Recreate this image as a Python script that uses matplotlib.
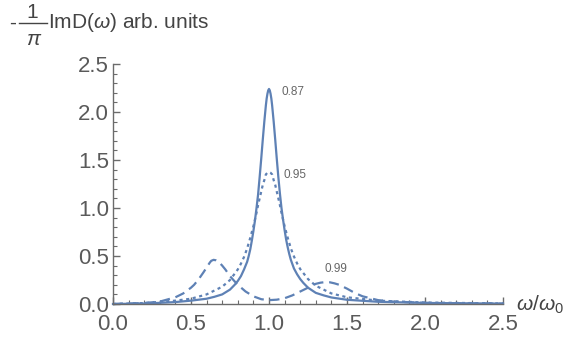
import numpy as np
import matplotlib
matplotlib.use("Agg")
import matplotlib.pyplot as plt
from matplotlib.lines import Line2D
from matplotlib.ticker import MultipleLocator, FormatStrFormatter

plt.rcParams["font.family"] = ["Liberation Sans", "DejaVu Sans"]
plt.rcParams["mathtext.fontset"] = "custom"
plt.rcParams["mathtext.rm"] = "Liberation Sans"
plt.rcParams["mathtext.it"] = "Liberation Sans:italic"

# values
x_solid = [0.0, 0.2, 0.3, 0.4, 0.5, 0.6, 0.65, 0.7, 0.75, 0.78, 0.8, 0.82,
           0.84, 0.86, 0.87, 0.88, 0.89, 0.9, 0.91, 0.92, 0.93, 0.94, 0.95,
           0.96, 0.97, 0.98, 0.985, 0.99, 0.995, 1.0, 1.005, 1.01, 1.015, 1.02,
           1.03, 1.04, 1.05, 1.06, 1.07, 1.08, 1.09, 1.1, 1.11, 1.12, 1.13,
           1.14, 1.16, 1.18, 1.2, 1.22, 1.25, 1.3, 1.35, 1.4, 1.5, 1.7, 2.0,
           2.5]
y_solid = [0.0, 0.005, 0.012, 0.02, 0.035, 0.055, 0.075, 0.1, 0.15, 0.2,
           0.24, 0.29, 0.36, 0.44, 0.50, 0.57, 0.66, 0.76, 0.87, 1.0, 1.14,
           1.32, 1.51, 1.71, 1.90, 2.07, 2.14, 2.19, 2.225, 2.24, 2.225, 2.19,
           2.14, 2.07, 1.90, 1.71, 1.51, 1.32, 1.15, 1.0, 0.88, 0.77, 0.67,
           0.59, 0.52, 0.46, 0.37, 0.31, 0.26, 0.22, 0.17, 0.116, 0.09, 0.068,
           0.044, 0.023, 0.011, 0.004]

x_dotted = [0.0, 0.2, 0.4, 0.5, 0.6, 0.7, 0.75, 0.8, 0.82, 0.84, 0.86, 0.88,
            0.9, 0.91, 0.92, 0.93, 0.94, 0.95, 0.96, 0.97, 0.98, 0.99, 1.0,
            1.01, 1.02, 1.03, 1.04, 1.05, 1.06, 1.07, 1.08, 1.09, 1.1, 1.12,
            1.14, 1.16, 1.18, 1.2, 1.25, 1.3, 1.4, 1.5, 1.7, 2.0, 2.5]
y_dotted = [0.0, 0.01, 0.035, 0.055, 0.1, 0.18, 0.25, 0.36, 0.42, 0.49, 0.58,
            0.69, 0.81, 0.88, 0.95, 1.03, 1.10, 1.17, 1.24, 1.29, 1.35, 1.367,
            1.375, 1.367, 1.35, 1.29, 1.24, 1.17, 1.10, 1.03, 0.95, 0.88,
            0.81, 0.69, 0.58, 0.495, 0.423, 0.364, 0.26, 0.19, 0.11, 0.07,
            0.035, 0.015, 0.006]

x_dashed = [0.0, 0.2, 0.3, 0.4, 0.45, 0.5, 0.52, 0.55, 0.58, 0.6, 0.62, 0.63,
            0.645, 0.66, 0.68, 0.7, 0.72, 0.75, 0.78, 0.8, 0.85, 0.9, 0.95,
            1.0, 1.05, 1.1, 1.15, 1.2, 1.25, 1.3, 1.33, 1.36, 1.39, 1.42, 1.45,
            1.5, 1.55, 1.6, 1.7, 1.8, 2.0, 2.2, 2.5]
y_dashed = [0.0, 0.01, 0.025, 0.07, 0.11, 0.17, 0.2, 0.26, 0.33, 0.38, 0.43,
            0.45, 0.46, 0.455, 0.435, 0.4, 0.36, 0.29, 0.235, 0.2, 0.13, 0.08,
            0.05, 0.04, 0.045, 0.06, 0.09, 0.13, 0.17, 0.21, 0.222, 0.228,
            0.226, 0.215, 0.2, 0.16, 0.115, 0.08, 0.04, 0.025, 0.012, 0.007,
            0.004]

labels = ["0.87", "0.95", "0.99"]
label_x = [1.083, 1.096, 1.353]
label_y = [2.21, 1.34, 0.36]

W, H = 564, 337
blue = "#5E81B5"
axis_grey = "#6b6b6b"

fig = plt.figure(figsize=(W / 100, H / 100), dpi=100)
ax = fig.add_axes([113 / W, 33 / H, 390 / W, 240 / H])

ax.plot(x_solid, y_solid, color=blue, lw=1.6, clip_on=False)
ax.plot(x_dotted, y_dotted, color=blue, lw=1.6, dashes=(1.4, 1.6),
        dash_capstyle="butt", clip_on=False)
ax.plot(x_dashed, y_dashed, color=blue, lw=1.6, dashes=(4.5, 2.6),
        dash_capstyle="butt", clip_on=False)

for t, lx, ly in zip(labels, label_x, label_y):
    ax.text(lx, ly, t, fontsize=8.5, color="#666666", ha="left", va="center")

ax.set_xlim(0, 2.5)
ax.set_ylim(0, 2.5)
for s in ["top", "right"]:
    ax.spines[s].set_visible(False)
for s in ["left", "bottom"]:
    ax.spines[s].set_color(axis_grey)
    ax.spines[s].set_linewidth(1.0)

ax.xaxis.set_major_locator(MultipleLocator(0.5))
ax.xaxis.set_minor_locator(MultipleLocator(0.1))
ax.yaxis.set_major_locator(MultipleLocator(0.5))
ax.yaxis.set_minor_locator(MultipleLocator(0.1))
ax.xaxis.set_major_formatter(FormatStrFormatter("%.1f"))
ax.yaxis.set_major_formatter(FormatStrFormatter("%.1f"))
ax.tick_params(which="major", direction="in", length=5, width=1,
               color=axis_grey, labelsize=16, labelcolor="#5a5a5a")
ax.tick_params(which="minor", direction="in", length=3, width=0.8,
               color=axis_grey)
ax.tick_params(axis="x", pad=7)
ax.tick_params(axis="y", pad=3)


def fx(px):
    return px / W


def fy(py):
    return 1 - py / H


txt = dict(color="#444444", fontsize=15)
fig.text(fx(9.5), fy(28.3), "-", ha="left", va="baseline", **txt)
fig.text(fx(32.5), fy(18), "1", ha="center", va="baseline", **txt)
fig.text(fx(34.5), fy(45), r"$\pi$", ha="center", va="baseline", **txt)
fig.add_artist(Line2D([fx(19), fx(47)], [fy(22.7), fy(22.7)],
                      color="#444444", lw=1.0))
fig.text(fx(48), fy(28.3), r"ImD($\omega$) arb. units", ha="left",
         va="baseline", **txt)
fig.text(fx(516), fy(305), r"$\omega/\omega_0$", ha="left", va="center", **txt)

fig.savefig("out.png", dpi=100)
